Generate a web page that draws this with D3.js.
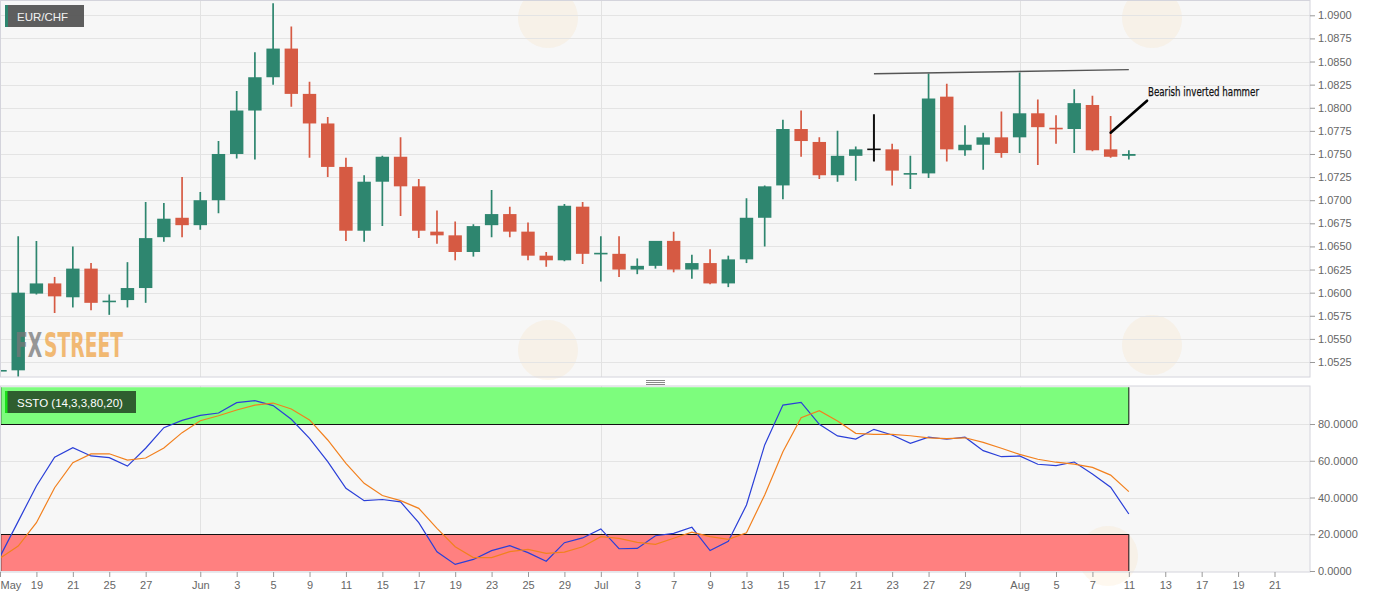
<!DOCTYPE html>
<html><head><meta charset="utf-8">
<script src="https://cdn.jsdelivr.net/npm/d3@7"></script>
<style>
html,body{margin:0;padding:0;background:#fff;overflow:hidden;}
svg{display:block;font-family:"Liberation Sans",Arial,sans-serif;}
</style></head><body>
<svg id="c" width="1387" height="598"></svg>
<script>
// ---------------- DATA ----------------
const dates = ["May 15","May 18","May 19","May 20","May 21","May 22","May 25","May 26","May 27","May 28","May 29",
"Jun 1","Jun 2","Jun 3","Jun 4","Jun 5","Jun 8","Jun 9","Jun 10","Jun 11","Jun 12","Jun 15","Jun 16","Jun 17","Jun 18","Jun 19",
"Jun 22","Jun 23","Jun 24","Jun 25","Jun 26","Jun 29","Jun 30","Jul 1","Jul 2","Jul 3","Jul 6","Jul 7","Jul 8","Jul 9","Jul 10",
"Jul 13","Jul 14","Jul 15","Jul 16","Jul 17","Jul 20","Jul 21","Jul 22","Jul 23","Jul 24","Jul 27","Jul 28","Jul 29","Jul 30","Jul 31",
"Aug 3","Aug 4","Aug 5","Aug 6","Aug 7","Aug 10","Aug 11"];
const open  = [1.0515,1.0516,1.0599,1.0610,1.0595,1.0626,1.0590,1.0592,1.0605,1.0660,1.0681,
1.0673,1.0700,1.0750,1.0797,1.0833,1.0864,1.0815,1.0783,1.0736,1.0667,1.0720,1.0747,1.0715,1.0666,1.0662,
1.0644,1.0673,1.0685,1.0666,1.0640,1.0635,1.0693,1.0642,1.0642,1.0625,1.0629,1.0656,1.0625,1.0632,1.0610,
1.0636,1.0681,1.0716,1.0777,1.0763,1.0727,1.0748,1.0755,1.0755,1.0728,1.0729,1.0812,1.0754,1.0760,1.0768,
1.0768,1.0794,1.0778,1.0777,1.0803,1.0755,1.0748];
const high  = [1.0525,1.0661,1.0656,1.0617,1.0650,1.0632,1.0598,1.0633,1.0698,1.0697,1.0725,
1.0709,1.0764,1.0818,1.0860,1.0913,1.0888,1.0828,1.0790,1.0746,1.0727,1.0748,1.0768,1.0723,1.0689,1.0677,
1.0674,1.0711,1.0693,1.0676,1.0644,1.0696,1.0698,1.0661,1.0661,1.0637,1.0656,1.0666,1.0641,1.0647,1.0640,
1.0702,1.0716,1.0787,1.0797,1.0768,1.0775,1.0758,1.0793,1.0761,1.0748,1.0837,1.0826,1.0781,1.0773,1.0796,
1.0838,1.0809,1.0792,1.0820,1.0813,1.0791,1.0754];
const low   = [1.0513,1.0509,1.0598,1.0578,1.0584,1.0581,1.0576,1.0584,1.0589,1.0655,1.0660,
1.0668,1.0686,1.0745,1.0744,1.0825,1.0801,1.0746,1.0725,1.0656,1.0655,1.0672,1.0683,1.0659,1.0653,1.0635,
1.0639,1.0660,1.0660,1.0635,1.0628,1.0634,1.0631,1.0612,1.0617,1.0620,1.0626,1.0622,1.0615,1.0609,1.0606,
1.0632,1.0650,1.0701,1.0747,1.0723,1.0720,1.0721,1.0742,1.0716,1.0712,1.0724,1.0742,1.0748,1.0733,1.0746,
1.0751,1.0738,1.0761,1.0751,1.0753,1.0746,1.0744];
const close = [1.0516,1.0600,1.0610,1.0596,1.0626,1.0589,1.0591,1.0605,1.0659,1.0680,1.0673,
1.0700,1.0750,1.0797,1.0833,1.0864,1.0815,1.0783,1.0736,1.0667,1.0720,1.0747,1.0715,1.0667,1.0662,1.0644,
1.0672,1.0685,1.0666,1.0640,1.0635,1.0694,1.0642,1.06425,1.0625,1.0629,1.0656,1.0625,1.0632,1.0610,1.0636,
1.0681,1.0715,1.0777,1.0764,1.0727,1.0748,1.0755,1.0755,1.0732,1.0729,1.0810,1.0755,1.0760,1.0768,1.0751,
1.0794,1.0779,1.0777,1.0805,1.0754,1.0747,1.0750];
const stochK = [7.8,27,46.3,61.9,67.1,62.6,61.7,57.1,66.8,78.0,82.0,84.7,86.0,91.6,92.7,90.0,82.6,72.2,59.5,45.0,38.3,
38.9,37.6,26.3,10.5,3.6,6.3,11.1,13.8,10.0,5.3,15.4,18.0,22.9,12.1,12.3,19.2,20.5,23.8,11.1,16.2,
35.9,68.6,90.3,91.8,79.8,73.5,71.8,77.1,74.0,69.5,72.8,71.7,72.8,65.5,62.2,62.6,58.1,57.3,59.3,52.8,45.6,31.0];
const stochD = [6.9,13.6,26.3,45.3,58.9,63.7,63.8,60.4,61.5,66.9,75.3,81.8,84.5,87.6,90.3,91.4,88.2,82.2,71.3,58.6,47.7,
41.1,38.3,34.1,23.2,13.2,7.3,7.3,10.5,11.8,9.6,10.3,13.2,18.7,17.8,15.6,14.5,17.8,21.1,18.7,17.2,
20.8,41.4,64.9,83.4,87.2,81.6,74.9,74.4,74.4,73.6,72.5,72.0,72.5,70.0,66.8,63.5,60.8,59.2,58.2,56.4,52.2,43.2];
const priceTicks = [1.0525,1.0550,1.0575,1.0600,1.0625,1.0650,1.0675,1.0700,1.0725,1.0750,1.0775,1.0800,1.0825,1.0850,1.0875,1.0900];
const stoTicks = [0,20,40,60,80];
const xTickIdx = [0,2,4,6,8,11,13,15,17,19,21,23,25,27,29,31,33,35,37,39,41,43,45,47,49,51,53,56,58,60,62,64,66,68,70];
const xTickLabels = ["May","19","21","25","27","Jun","3","5","9","11","15","17","19","23","25","29","Jul","3","7","9","13","15","17","21","23","27","29","Aug","5","7","11","13","17","19","21"];
const monthStartIdx = [11,33,56];
const symbol = "EUR/CHF";
const indicatorLabel = "SSTO (14,3,3,80,20)";
const overbought = 80, oversold = 20;
const trendLine = [{i:48,p:1.08368},{i:62,p:1.08412}];
const annotation = {text:"Bearish inverted  hammer", ti:63.05, tp:1.08127, ai:63.0, ap:1.08076, bi:61.0, bp:1.0773};

// ---------------- LAYOUT ----------------
const plotR = 1310, pTop = 0.5, pBot = 377, sTop = 386, sBot = 572;
const svg = d3.select('#c');
const x = d3.scaleLinear().domain([0,70]).range([0,1274.5]);
const yP = d3.scaleLinear().domain([1.0525,1.09]).range([362,15.3]);
const yS = d3.scaleLinear().domain([0,80]).range([571,424]);
const lastIdx = dates.length-1;

const defs = svg.append('defs');
defs.append('clipPath').attr('id','cp').append('rect').attr('x',0).attr('y',pTop).attr('width',plotR).attr('height',pBot-pTop);
defs.append('clipPath').attr('id','cs').append('rect').attr('x',0).attr('y',sTop).attr('width',plotR).attr('height',sBot-sTop);

// backgrounds
svg.append('rect').attr('x',0.5).attr('y',pTop).attr('width',plotR-0.5).attr('height',pBot-pTop).attr('fill','#f7f7f7');
svg.append('rect').attr('x',0.5).attr('y',sTop).attr('width',plotR-0.5).attr('height',sBot-sTop).attr('fill','#f7f7f7');

// faint watermark discs (background decoration)
const wm = svg.append('g').attr('pointer-events','none');
[[548,18],[1152,18],[548,350],[1152,345],[1108,556]].forEach(([cx,cy])=>{
  wm.append('circle').attr('cx',cx).attr('cy',cy).attr('r',30).attr('fill','#f3c27a').attr('opacity',0.12);
});

// grid
const gP = svg.append('g').attr('clip-path','url(#cp)');
gP.selectAll('line.h').data(priceTicks).join('line').attr('x1',0).attr('x2',plotR)
  .attr('y1',d=>Math.round(yP(d))+0.5).attr('y2',d=>Math.round(yP(d))+0.5).attr('stroke','#e4e4e4');
gP.selectAll('line.v').data(monthStartIdx).join('line').attr('y1',pTop).attr('y2',pBot)
  .attr('x1',d=>Math.round(x(d))+0.5).attr('x2',d=>Math.round(x(d))+0.5).attr('stroke','#e2e2e2');
const gS = svg.append('g').attr('clip-path','url(#cs)');
gS.selectAll('line.h').data(stoTicks.slice(1)).join('line').attr('x1',0).attr('x2',plotR)
  .attr('y1',d=>Math.round(yS(d))+0.5).attr('y2',d=>Math.round(yS(d))+0.5).attr('stroke','#e4e4e4');
gS.selectAll('line.v').data(monthStartIdx).join('line').attr('y1',sTop).attr('y2',sBot)
  .attr('x1',d=>Math.round(x(d))+0.5).attr('x2',d=>Math.round(x(d))+0.5).attr('stroke','#e2e2e2');

// FXStreet logo (behind candles): two words in a horizontally squeezed group
const logoFont = '"DejaVu Sans Condensed","Liberation Sans Narrow",sans-serif';
const lg = svg.append('g').attr('opacity',0.75);
const t1 = lg.append('text').attr('x',0).attr('y',0).attr('font-family',logoFont).attr('font-weight','bold').attr('font-size',33)
  .attr('fill','#777').text('FX');
const w1 = t1.node().getComputedTextLength();
const t2 = lg.append('text').attr('x',w1+3).attr('y',0).attr('font-family',logoFont).attr('font-weight','bold').attr('font-size',33)
  .attr('fill','#f0a548').text('STREET');
const w2 = t2.node().getComputedTextLength();
const sx = 108/(w1+3+w2);
lg.attr('transform',`translate(15,357) scale(${sx},1)`);

// candles
const GREEN = '#2e866f', RED = '#d65a43';
const colorOf = i => close[i] > open[i] ? GREEN : (close[i] < open[i] ? RED : '#111');
const gc = gP.append('g');
d3.range(dates.length).forEach(i => {
  const cx = x(i), col = colorOf(i);
  gc.append('line').attr('x1',cx).attr('x2',cx).attr('y1',yP(high[i])).attr('y2',yP(low[i]))
    .attr('stroke',col).attr('stroke-width', col==='#111'?2:1.7);
  const yt = yP(Math.max(open[i],close[i])), yb = yP(Math.min(open[i],close[i]));
  const h = Math.max(1.6, yb-yt);
  gc.append('rect').attr('x',cx-6.7).attr('width',13.4).attr('y',(yt+yb)/2-h/2).attr('height',h).attr('fill',col);
});

// trend line
gP.append('line').attr('x1',x(trendLine[0].i)).attr('y1',yP(trendLine[0].p)).attr('x2',x(trendLine[1].i)).attr('y2',yP(trendLine[1].p))
  .attr('stroke','#555').attr('stroke-width',1.4);
// annotation arrow + text
svg.append('line').attr('x1',x(annotation.ai)).attr('y1',yP(annotation.ap)).attr('x2',x(annotation.bi)).attr('y2',yP(annotation.bp))
  .attr('stroke','#000').attr('stroke-width',2.6).attr('stroke-linecap','round');
svg.append('text').attr('x',x(annotation.ti)).attr('y',yP(annotation.tp)).attr('font-family','"Liberation Sans Narrow","DejaVu Sans Condensed",sans-serif')
  .attr('font-size',13).attr('fill','#111').attr('stroke','#111').attr('stroke-width',0.25)
  .attr('textLength',111).attr('lengthAdjust','spacingAndGlyphs').text(annotation.text);

// stochastic bands
const bandR = x(lastIdx);
gS.append('rect').attr('x',0).attr('width',bandR).attr('y',yS(100)).attr('height',yS(overbought)-yS(100)).attr('fill','#7dfd7d');
gS.append('rect').attr('x',0).attr('width',bandR).attr('y',yS(oversold)).attr('height',yS(0)-yS(oversold)).attr('fill','#ff8080');
[overbought, oversold].forEach(v=>{
  gS.append('line').attr('x1',0).attr('x2',bandR).attr('y1',Math.round(yS(v))+0.5).attr('y2',Math.round(yS(v))+0.5).attr('stroke','#111');
});
gS.append('line').attr('x1',bandR).attr('x2',bandR).attr('y1',yS(100)).attr('y2',yS(overbought)).attr('stroke','#111');
gS.append('line').attr('x1',bandR).attr('x2',bandR).attr('y1',yS(oversold)).attr('y2',yS(0)).attr('stroke','#111');
gS.append('line').attr('x1',0.8).attr('x2',0.8).attr('y1',yS(100)).attr('y2',yS(overbought)).attr('stroke','#222');
gS.append('line').attr('x1',0.8).attr('x2',0.8).attr('y1',yS(oversold)).attr('y2',yS(0)).attr('stroke','#222');

// stochastic lines
const line = d3.line().x((d,i)=>x(i)).y(d=>yS(d));
gS.append('path').datum(stochK).attr('d',line).attr('fill','none').attr('stroke','#2a3fd8').attr('stroke-width',1.2);
gS.append('path').datum(stochD).attr('d',line).attr('fill','none').attr('stroke','#f2801e').attr('stroke-width',1.2);

// panel borders
svg.append('rect').attr('x',0.5).attr('y',pTop).attr('width',plotR-0.5).attr('height',pBot-pTop).attr('fill','none').attr('stroke','#d4d4dc');
svg.append('rect').attr('x',0.5).attr('y',sTop).attr('width',plotR-0.5).attr('height',sBot-sTop).attr('fill','none').attr('stroke','#d4d4dc');

// separator handle
[380.5,382.5,384.5].forEach(yy=>svg.append('line').attr('x1',646).attr('x2',665).attr('y1',yy).attr('y2',yy).attr('stroke','#888'));

// axes
const styleAxis = g => {
  g.select('.domain').remove();
  g.selectAll('.tick line').attr('stroke','#999');
  g.selectAll('.tick text').attr('fill','#666').attr('font-size',11).attr('font-family','"Liberation Sans",Arial,sans-serif');
};
svg.append('g').attr('transform',`translate(${plotR},0)`)
  .call(d3.axisRight(yP).tickValues(priceTicks).tickFormat(d3.format('.4f')).tickSize(5).tickPadding(3)).call(styleAxis);
svg.append('g').attr('transform',`translate(${plotR},0)`)
  .call(d3.axisRight(yS).tickValues(stoTicks).tickFormat(d3.format('.4f')).tickSize(5).tickPadding(3)).call(styleAxis);
const xa = svg.append('g').attr('transform',`translate(0,${sBot})`)
  .call(d3.axisBottom(x).tickValues(xTickIdx).tickFormat((d,i)=>xTickLabels[i]).tickSize(5).tickPadding(4)).call(styleAxis);
xa.selectAll('.tick text').filter((d,i)=>i===0).attr('text-anchor','start').attr('x',0);

// symbol label
svg.append('rect').attr('x',5).attr('y',5).attr('width',79).attr('height',22).attr('fill','#555').attr('opacity',0.95);
svg.append('rect').attr('x',5).attr('y',5).attr('width',3).attr('height',22).attr('fill','#2e866f');
svg.append('text').attr('x',17).attr('y',20.5).attr('fill','#f2f2f2').attr('font-size',11.5).text(symbol);
// indicator label
svg.append('rect').attr('x',5).attr('y',391).attr('width',131).attr('height',22).attr('fill','#2f5e2f');
svg.append('rect').attr('x',5).attr('y',391).attr('width',2.5).attr('height',22).attr('fill','#19e019');
svg.append('text').attr('x',17).attr('y',406.5).attr('fill','#fff').attr('font-size',11.5).text(indicatorLabel);
</script>
</body></html>
